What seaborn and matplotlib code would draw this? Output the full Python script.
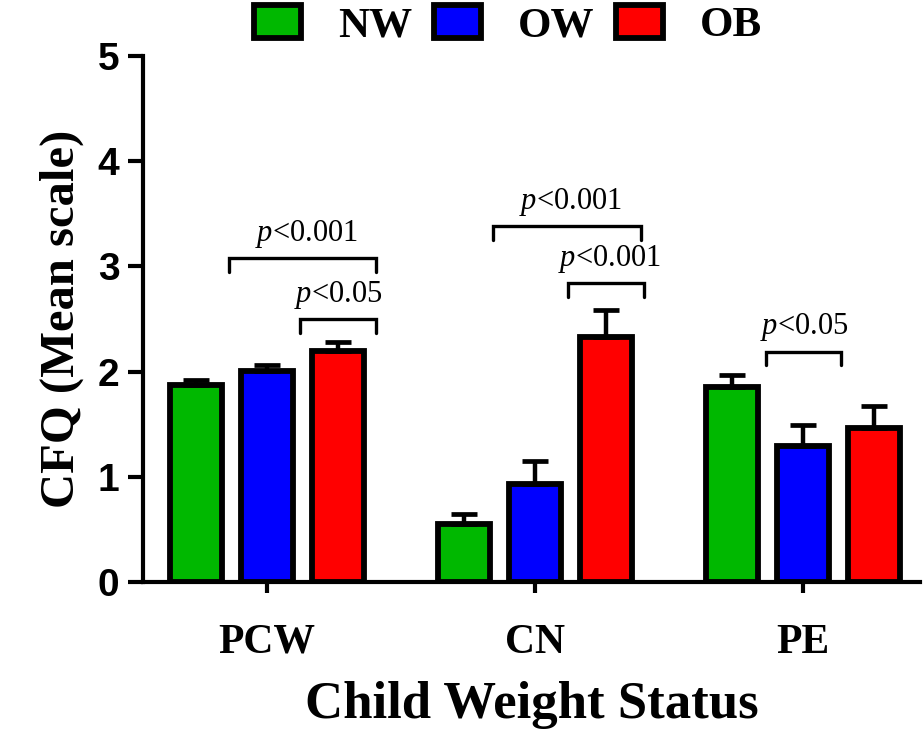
import pandas as pd
import numpy as np
import matplotlib
matplotlib.use('Agg')
import matplotlib.pyplot as plt
import seaborn as sns

# data
categories = ['PCW', 'CN', 'PE']
groups = ['NW', 'OW', 'OB']
means = {
    'NW': [1.87, 0.55, 1.85],
    'OW': [2.01, 0.93, 1.29],
    'OB': [2.20, 2.33, 1.46],
}
errors = {
    'NW': [0.05, 0.10, 0.12],
    'OW': [0.05, 0.22, 0.20],
    'OB': [0.08, 0.26, 0.21],
}
colors = ['#00B800', '#0000FF', '#FF0000']

# significance brackets: (x0, x1, y, label, text x)
brackets = [
    (-0.142, 0.407, 3.08, '<0.001', 0.146),
    (0.123, 0.407, 2.50, '<0.05', 0.265),
    (0.843, 1.396, 3.38, '<0.001', 1.131),
    (1.123, 1.407, 2.84, '<0.001', 1.276),
    (1.862, 2.142, 2.19, '<0.05', 2.004),
]

rows = []
for g in groups:
    for c, m in zip(categories, means[g]):
        rows.append({'Category': c, 'Group': g, 'Mean': m})
df = pd.DataFrame(rows)

sns.set_style('ticks')
plt.rcParams['font.family'] = ['Liberation Serif', 'DejaVu Serif']
plt.rcParams['mathtext.fontset'] = 'custom'
plt.rcParams['mathtext.it'] = 'Liberation Serif:italic'
plt.rcParams['mathtext.rm'] = 'Liberation Serif'
for k in ['text.color', 'axes.labelcolor', 'xtick.color', 'ytick.color', 'axes.edgecolor']:
    plt.rcParams[k] = 'black'

fig = plt.figure(figsize=(9.23, 7.42), dpi=100)
ax = fig.add_axes([0.155, 0.2156, 0.842, 0.709])

sns.barplot(data=df, x='Category', y='Mean', hue='Group', order=categories,
            hue_order=groups, palette=colors, width=0.795, gap=0.27,
            edgecolor='black', linewidth=4.2, saturation=1, ax=ax, legend=False)

# upward-only error bars
for cont, g in zip(ax.containers, groups):
    for bar, err in zip(cont, errors[g]):
        xc = bar.get_x() + bar.get_width() / 2
        h = bar.get_height()
        ax.errorbar(xc, h, yerr=[[0], [err]], fmt='none', ecolor='black',
                    elinewidth=3.2, capsize=9.5, capthick=3.4, zorder=1)

# brackets and p values
for x0, x1, y, lab, tx in brackets:
    leg = 0.13
    ax.plot([x0, x0, x1, x1], [y - leg, y, y, y - leg], color='black',
            lw=2.4, solid_joinstyle='miter', clip_on=False)
    ax.text(tx, y + 0.08, r'$\mathit{p}$' + lab, ha='center', va='bottom',
            fontsize=22)

ax.set_xlim(-0.463, 2.437)
ax.set_ylim(0, 5)
ax.set_yticks([0, 1, 2, 3, 4, 5])
sns.despine(ax=ax)
for s in ['left', 'bottom']:
    ax.spines[s].set_linewidth(3)
ax.tick_params(axis='y', length=11, width=3, pad=6)
ax.tick_params(axis='x', length=8, width=3, pad=22)
for t in ax.get_yticklabels():
    t.set_fontfamily('Liberation Sans')
    t.set_fontweight('bold')
    t.set_fontsize(28)
for t in ax.get_xticklabels():
    t.set_fontweight('bold')
    t.set_fontsize(30)

ax.set_xlabel('Child Weight Status', fontsize=38, fontweight='bold', labelpad=14)
ax.set_ylabel('CFQ (Mean scale)', fontsize=35, fontweight='bold', labelpad=10)

handles = [plt.Rectangle((0, 0), 1, 1, facecolor=c, edgecolor='black', linewidth=4.2)
           for c in colors]
fig.legend(handles, groups, loc='center', bbox_to_anchor=(508 / 923, 1 - 25 / 742),
           ncol=3, frameon=False, prop={'family': 'Liberation Serif', 'weight': 'bold', 'size': 31},
           handlelength=1.1, handleheight=0.8, handletextpad=0.85, columnspacing=0.5)

plt.savefig('out.png', dpi=100)
